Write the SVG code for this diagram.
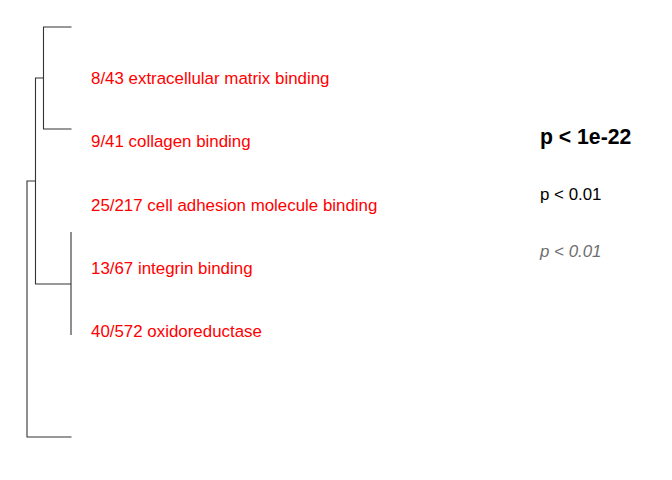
<svg xmlns="http://www.w3.org/2000/svg" width="672" height="480" viewBox="0 0 672 480">
<style>
.edge{stroke:#333;stroke-width:1.1;fill:none}
.lab{font-family:"Liberation Sans",Arial,sans-serif;font-size:16.9px;fill:#ff0000}
.p{font-family:"Liberation Sans",Arial,sans-serif;fill:#000}
.pi{font-family:"Liberation Sans",Arial,sans-serif;fill:#6e6e6e;font-style:italic}
</style>
<rect width="672" height="480" fill="#fff"/>
<g id="connectors">
<path class="edge" d="M71.5,27 H43.5 V129 H71.5"/>
<path class="edge" d="M43.5,78 H35.5 V284 H71"/>
<path class="edge" d="M71,232 V335"/>
<path class="edge" d="M35.5,181 H27 V437 H71.5"/>
</g>
<g id="n1"><text class="lab" x="91" y="84">8/43 extracellular matrix binding</text></g>
<g id="n2"><text class="lab" x="91" y="147">9/41 collagen binding</text></g>
<g id="n3"><text class="lab" x="91" y="211">25/217 cell adhesion molecule binding</text></g>
<g id="n4"><text class="lab" x="91" y="274">13/67 integrin binding</text></g>
<g id="n5"><text class="lab" x="91" y="337">40/572 oxidoreductase</text></g>
<g id="legend">
<text class="p" x="540" y="144" font-size="21.2" font-weight="bold">p &lt; 1e-22</text>
<text class="p" x="540" y="200" font-size="16.9">p &lt; 0.01</text>
<text class="pi" x="540" y="257" font-size="16.9">p &lt; 0.01</text>
</g>
</svg>
